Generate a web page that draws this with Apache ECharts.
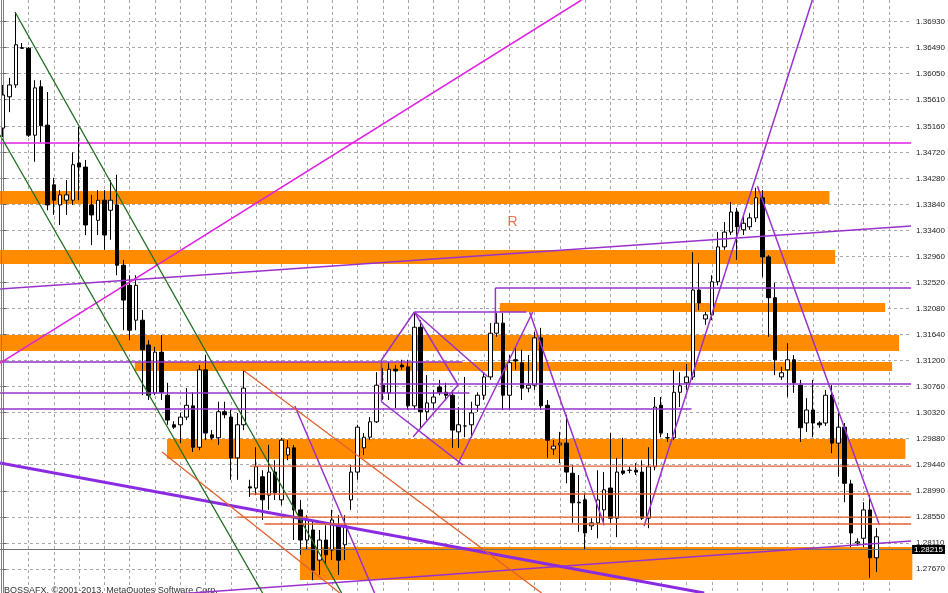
<!DOCTYPE html>
<html><head><meta charset="utf-8">
<script src="https://cdn.jsdelivr.net/npm/echarts@6/dist/echarts.min.js"></script>
<style>html,body{margin:0;padding:0;background:#fff}#c{width:948px;height:593px}</style>
</head><body><div id="c"></div>
<script>
const SLOTS = 144;
const slots = Array.from({length: SLOTS}, (_, i) => String(i));
const opens = [1.3513,1.3566,1.3586,1.3649,1.3648,1.3501,1.3583,1.3518,1.3417,1.3383,1.3391,1.3391,1.3454,1.3447,1.3383,1.3357,1.3391,1.3374,1.3383,1.3281,1.3247,1.3188,1.3188,1.3146,1.3065,1.3134,1.3061,1.3011,1.3011,1.3024,1.3043,1.2973,1.3104,1.2994,1.2989,1.3033,1.3024,1.2955,1.3011,1.2906,1.2904,1.2923,1.2892,1.2931,1.2884,1.2960,1.2972,1.2867,1.2816,1.2833,1.2782,1.2816,1.2799,1.2841,1.2808,1.2884,1.2931,1.2972,1.2990,1.3016,1.3078,1.3065,1.3105,1.3112,1.3109,1.3043,1.3176,1.3033,1.3048,1.3075,1.3066,1.3061,1.2999,1.3009,1.3011,1.3044,1.3061,1.3092,1.3166,1.3183,1.3061,1.3121,1.3116,1.3073,1.3078,1.3158,1.3044,1.2970,1.2977,1.2980,1.2929,1.2879,1.2884,1.2840,1.2845,1.2867,1.2904,1.2853,1.2933,1.2934,1.2934,1.2931,1.2853,1.2940,1.3044,1.2989,1.2989,1.3066,1.3082,1.3092,1.3239,1.3190,1.3197,1.3253,1.3312,1.3337,1.3371,1.3341,1.3346,1.3361,1.3395,1.3295,1.3226,1.3092,1.3104,1.3121,1.3078,1.3014,1.3036,1.3014,1.3014,1.3061,1.2980,1.3007,1.2911,1.2811,1.2819,1.2867,1.2786];
const closes = [1.3569,1.3586,1.3654,1.3648,1.3501,1.3581,1.3517,1.3383,1.3391,1.3400,1.3400,1.3451,1.3447,1.3349,1.3366,1.3391,1.3332,1.3391,1.3281,1.3222,1.3171,1.3247,1.3138,1.3061,1.3134,1.3066,1.3019,1.3007,1.3024,1.3044,1.2973,1.3104,1.2997,1.2989,1.3033,1.3028,1.2955,1.3011,1.3073,1.2904,1.2940,1.2884,1.2931,1.2896,1.2985,1.2972,1.2867,1.2816,1.2850,1.2765,1.2816,1.2791,1.2850,1.2782,1.2841,1.2931,1.3007,1.2990,1.3016,1.3078,1.3066,1.3105,1.3102,1.3109,1.3043,1.3176,1.3033,1.3048,1.3058,1.3066,1.3061,1.3002,1.3011,1.3009,1.3031,1.3061,1.3092,1.3166,1.3183,1.3061,1.3116,1.3119,1.3073,1.3078,1.3158,1.3043,1.2985,1.2975,1.2980,1.2931,1.2879,1.2880,1.2828,1.2845,1.2884,1.2901,1.2853,1.2931,1.2929,1.2934,1.2931,1.2853,1.2940,1.3041,1.2997,1.2989,1.3066,1.3077,1.3092,1.3239,1.3217,1.3197,1.3253,1.3312,1.3337,1.3371,1.3346,1.3352,1.3361,1.3395,1.3295,1.3226,1.3121,1.3099,1.3121,1.3082,1.3006,1.3036,1.3014,1.3011,1.3061,1.2980,1.3007,1.2912,1.2828,1.2813,1.2867,1.2786,1.28215];
const lows = [1.3498,1.3540,1.3581,1.3647,1.3498,1.3456,1.3489,1.3374,1.3366,1.3349,1.3366,1.3383,1.3391,1.3332,1.3315,1.3332,1.3307,1.3324,1.3264,1.3171,1.3154,1.3171,1.3061,1.3053,1.3061,1.3053,1.3011,1.3004,1.2980,1.3019,1.2965,1.2968,1.2985,1.2985,1.2977,1.3022,1.2918,1.2918,1.3002,1.2889,1.2892,1.2850,1.2867,1.2884,1.2875,1.2951,1.2816,1.2791,1.2799,1.2748,1.2757,1.2774,1.2782,1.2757,1.2782,1.2867,1.2918,1.2960,1.2985,1.3014,1.3053,1.3053,1.3039,1.3104,1.3036,1.3036,1.3006,1.3019,1.3036,1.3061,1.3053,1.2972,1.2972,1.2990,1.2989,1.3033,1.3053,1.3087,1.3160,1.3036,1.3036,1.3104,1.3053,1.3066,1.3070,1.3036,1.2955,1.2960,1.2946,1.2912,1.2845,1.2830,1.2799,1.2833,1.2819,1.2841,1.2845,1.2821,1.2926,1.2929,1.2926,1.2850,1.2836,1.2934,1.2990,1.2982,1.2985,1.3041,1.3070,1.3087,1.3205,1.3180,1.3188,1.3247,1.3307,1.3332,1.3290,1.3332,1.3341,1.3354,1.3261,1.3160,1.3095,1.3087,1.3058,1.3065,1.2982,1.2999,1.2990,1.3006,1.3009,1.2963,1.2923,1.2880,1.2804,1.2806,1.2804,1.2752,1.2762];
const highs = [1.3586,1.3598,1.3709,1.3657,1.3650,1.3594,1.3594,1.3574,1.3429,1.3408,1.3425,1.3472,1.3515,1.3459,1.3400,1.3408,1.3408,1.3425,1.3434,1.3290,1.3264,1.3264,1.3205,1.3154,1.3143,1.3163,1.3082,1.3017,1.3031,1.3073,1.3066,1.3112,1.3129,1.3002,1.3050,1.3050,1.3036,1.3031,1.3104,1.2918,1.2973,1.2934,1.2977,1.2951,1.2989,1.2985,1.2977,1.2884,1.2858,1.2850,1.2833,1.2841,1.2867,1.2858,1.2858,1.2943,1.3011,1.2997,1.3024,1.3100,1.3107,1.3117,1.3112,1.3121,1.3121,1.3200,1.3188,1.3095,1.3070,1.3087,1.3082,1.3070,1.3041,1.3092,1.3050,1.3066,1.3099,1.3183,1.3200,1.3200,1.3129,1.3141,1.3138,1.3129,1.3168,1.3175,1.3053,1.2985,1.2999,1.3028,1.2943,1.2926,1.2896,1.2853,1.2934,1.2931,1.2997,1.2955,1.2989,1.2940,1.2946,1.2951,1.2973,1.3058,1.3058,1.2997,1.3104,1.3100,1.3114,1.3303,1.3285,1.3202,1.3264,1.3337,1.3354,1.3388,1.3378,1.3366,1.3369,1.3412,1.3408,1.3298,1.3251,1.3109,1.3149,1.3129,1.3087,1.3056,1.3087,1.3017,1.3070,1.3078,1.3031,1.3014,1.2918,1.2819,1.2880,1.2892,1.2836];
const yTicks = [1.36930,1.36490,1.36050,1.35610,1.35160,1.34720,1.34280,1.33840,1.33400,1.32960,1.32520,1.32080,1.31640,1.31200,1.30760,1.30320,1.29880,1.29440,1.28990,1.28550,1.28110,1.27670,1.27230];
const yMin = 1.27264, yMax = 1.37297;
const lastPrice = 1.28215;
// zones: [fromBar, toBar, upperPrice, lowerPrice]
const zones = [
  [-0.5,130.6,1.34065,1.33845],
  [-0.5,131.5,1.33067,1.32830],
  [78.5,139.4,1.32170,1.32018],
  [-0.5,141.6,1.31629,1.31358],
  [20.8,140.5,1.31172,1.31020],
  [25.9,142.6,1.29869,1.29531],
  [46.9,143.7,1.28042,1.27483]
];
// trend lines: [bar1, price1, bar2, price2]
const violetLines = [
  [-0.5,1.32407,143.5,1.33473],
  [23.2,1.27213,143.5,1.28143],
  [101.3,1.28397,127.9,1.37297],
  [119.2,1.34150,138.5,1.28414],
  [83.2,1.32018,95.0,1.28414],
  [71.8,1.29429,83.7,1.32018],
  [59.8,1.31206,65.0,1.32018],
  [65.0,1.32018,71.9,1.30783],
  [65.0,1.32018,76.6,1.30923],
  [59.8,1.30500,72.7,1.29429],
  [64.8,1.29908,71.9,1.30783],
  [59.8,1.31206,59.8,1.30500],
  [46.1,1.30428,58.7,1.27264],
  [77.8,1.32424,143.5,1.32424],
  [77.8,1.32424,77.8,1.31832],
  [65.0,1.32018,82.7,1.32018],
  [-0.5,1.31172,72.6,1.31172],
  [59.5,1.30800,143.5,1.30800],
  [-0.5,1.30647,73.7,1.30647],
  [-0.5,1.30377,108.8,1.30377]
];
const violetThick = [[-0.5,1.29463,110.8,1.27264]];
const magentaLines = [[-0.5,1.31155,91.4,1.37297],[-0.5,1.34877,143.5,1.34877]];
const greenLines = [[1.87,1.37094,53.5,1.27264],[-0.5,1.35013,41.0,1.27264]];
const redLines = [
  [39.0,1.29412,143.5,1.29412],
  [39.0,1.28939,143.5,1.28939],
  [36.9,1.28549,143.5,1.28549],
  [41.3,1.28431,143.5,1.28431],
  [37.9,1.31037,85.1,1.27264],
  [25.1,1.29649,53.2,1.27264]
];
const labelR = [[80.5,1.3354]];

const chart = echarts.init(document.getElementById('c'), null, {renderer:'canvas'});
const candles = opens.map((o,i)=>[o,closes[i],lows[i],highs[i]]);
function seg(s,color,width,z){
  return {type:'line',xAxisIndex:1,yAxisIndex:0,data:[[s[0],s[1]],[s[2],s[3]]],symbol:'none',
    lineStyle:{color:color,width:width},silent:true,clip:true,z:z||5,animation:false};
}
const series = [
  {type:'custom',xAxisIndex:1,yAxisIndex:0,data:zones,z:1,silent:true,
   encode:{x:[0,1],y:[2,3]},
   renderItem:function(params,api){
     const a=api.coord([api.value(0),api.value(2)]);
     const b=api.coord([api.value(1),api.value(3)]);
     return {type:'rect',shape:{x:a[0],y:a[1],width:b[0]-a[0],height:b[1]-a[1]},style:{fill:'#FF8C00'}};
   }},
  {type:'candlestick',xAxisIndex:0,yAxisIndex:0,data:candles,barWidth:4,z:3,
   itemStyle:{color:'#ffffff',color0:'#000000',borderColor:'#000000',borderColor0:'#000000',borderWidth:1},
   markLine:{symbol:'none',silent:true,data:[{yAxis:lastPrice}],
     lineStyle:{color:'#707070',type:'solid',width:1},
     label:{position:'end',distance:1,formatter:'1.28215',backgroundColor:'#000',color:'#fff',fontSize:8,padding:[1,2,0,2],fontFamily:'Liberation Sans'}}},
  {type:'scatter',xAxisIndex:1,yAxisIndex:0,data:labelR,symbolSize:0,silent:true,z:6,
   label:{show:true,formatter:'R',position:'inside',color:'#E8502A',fontSize:14,fontFamily:'Liberation Sans'}}
];
violetLines.forEach(s=>series.push(seg(s,'#9932CC',1.5)));
violetThick.forEach(s=>series.push(seg(s,'#8A2BE2',3)));
magentaLines.forEach(s=>series.push(seg(s,'#E020E0',1.5)));
greenLines.forEach(s=>series.push(seg(s,'#1E6B1E',1.3)));
redLines.forEach(s=>series.push(seg(s,'#E2602E',1.3)));

chart.setOption({
  animation:false,
  backgroundColor:'#ffffff',
  grid:{left:0,right:36,top:0,bottom:0},
  xAxis:[
    {type:'category',data:slots,boundaryGap:true,axisLine:{show:false},axisTick:{show:false},axisLabel:{show:false},
     splitLine:{show:true,alignWithLabel:true,interval:function(i){return i%4===0 && i>0;},lineStyle:{color:'#a8a8a8',type:[3,3],width:1}}},
    {type:'value',min:-0.5,max:SLOTS-0.5,show:false,splitLine:{show:false}}
  ],
  yAxis:{type:'value',position:'right',min:yMin,max:yMax,
    axisLine:{show:true,lineStyle:{color:'#808080',width:1}},
    axisTick:{show:true,length:3,customValues:yTicks,lineStyle:{color:'#606060'}},
    axisLabel:{customValues:yTicks,formatter:function(v){return v.toFixed(5);},fontSize:8,color:'#222',margin:5,fontFamily:'Liberation Sans'},
    splitLine:{show:true,lineStyle:{color:'#a8a8a8',type:[3,3],width:1}}},
  graphic:[
    {type:'line',shape:{x1:1.5,y1:0,x2:1.5,y2:593},style:{stroke:'#808080',lineWidth:1},z:10},
    {type:'text',left:4,top:586,style:{text:'BOSSAFX, \u00a92001-2013, MetaQuotes Software Corp.',fontSize:9,fill:'#333',fontFamily:'Liberation Sans'}}
  ],
  series:series
});
</script></body></html>
